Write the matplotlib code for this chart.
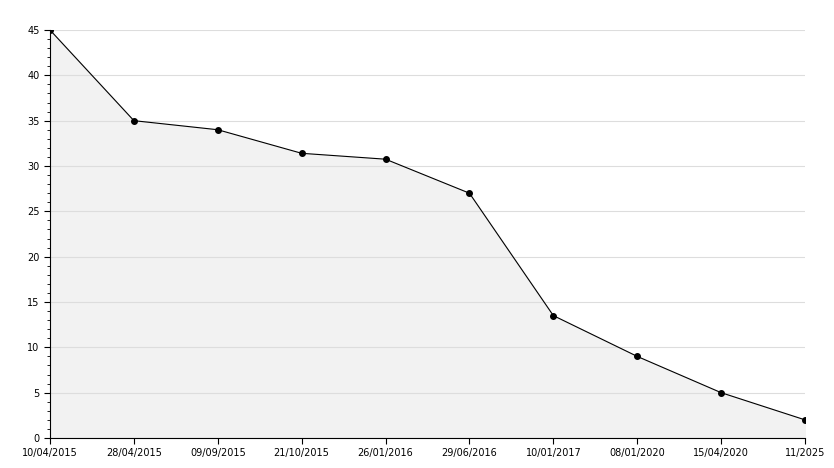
import matplotlib
matplotlib.use("Agg")
import matplotlib.pyplot as plt
from matplotlib.ticker import MultipleLocator

dates = ["10/04/2015", "28/04/2015", "09/09/2015", "21/10/2015", "26/01/2016",
         "29/06/2016", "10/01/2017", "08/01/2020", "15/04/2020", "11/2025"]
values = [45, 35, 34, 31.4, 30.75, 27, 13.5, 9, 5, 2]

fig = plt.figure(figsize=(8.34, 4.68), dpi=100)
ax = fig.add_axes([50 / 834, 30 / 468, 755 / 834, 408 / 468])

x = list(range(len(dates)))
ax.fill_between(x, values, 0, color="#f2f2f2", zorder=1)
ax.plot(x, values, color="black", lw=0.8, marker="o", ms=4, zorder=3)

ax.set_xlim(0, len(dates) - 1)
ax.set_ylim(0, 45)
ax.set_xticks(x)
ax.set_xticklabels(dates)
ax.yaxis.set_major_locator(MultipleLocator(5))
ax.yaxis.set_minor_locator(MultipleLocator(1))
ax.grid(axis="y", color="#dddddd", lw=0.8, zorder=0)
ax.tick_params(labelsize=7, length=4, direction="out")
ax.tick_params(which="minor", length=2)
for s in ["top", "right"]:
    ax.spines[s].set_visible(False)

fig.savefig("out.png", dpi=100)
